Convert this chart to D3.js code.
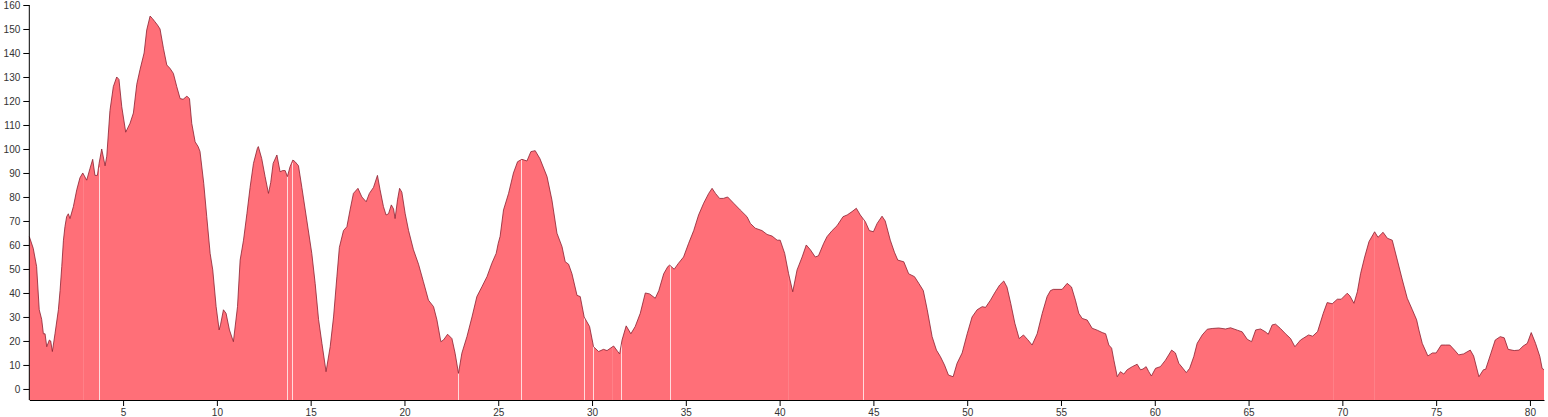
<!DOCTYPE html>
<html>
<head>
<meta charset="utf-8">
<script src="https://cdn.jsdelivr.net/npm/d3@7"></script>
<style>
  html, body { margin: 0; padding: 0; background: #fff; }
  svg { display: block; }
  .axis text { font-family: Arial, "Liberation Sans", sans-serif; font-size: 10px; fill: #333; }
  .axis path, .axis line { stroke: #000; }
</style>
</head>
<body>
<svg id="chart" width="1548" height="417"></svg>
<script>
// ---- data (distance in km, elevation in m) ----
const distanceKm = [
  0,0.21,0.39,0.53,0.66,0.75,0.84,0.93,1.07,1.14,1.23,1.37,1.55,1.64,1.73,1.82,1.9,1.99,2.08,2.17,
  2.35,2.53,2.70,2.85,3.06,3.24,3.38,3.5,3.63,3.72,3.86,4.04,4.13,4.3,4.48,4.66,4.78,4.93,5.14,5.37,
  5.55,5.73,5.9,6.12,6.26,6.44,6.56,6.7,6.83,6.97,7.15,7.33,7.5,7.68,7.86,8.04,8.2,8.4,8.54,8.66,
  8.84,9.0,9.1,9.3,9.46,9.64,9.78,9.96,10.12,10.2,10.35,10.49,10.67,10.88,11.1,11.24,11.42,11.6,11.77,11.95,
  12.16,12.21,12.39,12.57,12.66,12.75,12.87,13.0,13.2,13.37,13.5,13.64,13.76,13.9,14.05,14.17,14.35,14.53,14.8,15.06,
  15.24,15.42,15.6,15.82,16.04,16.22,16.4,16.53,16.75,16.93,17.1,17.28,17.52,17.73,17.96,18.13,18.35,18.56,18.7,18.88,
  19.02,19.15,19.3,19.42,19.5,19.63,19.74,19.86,20.04,20.22,20.48,20.75,21.01,21.28,21.55,21.73,21.94,22.08,22.3,22.53,
  22.7,22.88,23.06,23.33,23.6,23.86,24.13,24.4,24.66,24.89,25.0,25.1,25.28,25.55,25.81,26.03,26.26,26.53,26.74,26.97,
  27.22,27.6,27.86,28.13,28.4,28.57,28.75,28.93,29.2,29.37,29.58,29.87,30.08,30.35,30.61,30.8,31.15,31.37,31.47,31.6,
  31.82,32.07,32.3,32.57,32.84,33.07,33.37,33.56,33.82,34.04,34.14,34.38,34.61,34.88,35.15,35.42,35.68,35.95,36.22,36.4,
  36.58,36.8,37.0,37.23,37.55,37.9,38.26,38.44,38.7,39.06,39.33,39.6,39.87,40.03,40.27,40.48,40.7,40.93,41.2,41.42,
  41.64,41.9,42.07,42.35,42.53,42.8,43.06,43.38,43.6,43.86,44.09,44.3,44.57,44.78,45.0,45.2,45.46,45.63,45.9,46.12,
  46.3,46.62,46.88,47.19,47.42,47.66,47.87,48.13,48.36,48.57,48.79,49.0,49.25,49.46,49.73,50.0,50.26,50.53,50.8,50.98,
  51.24,51.5,51.73,51.95,52.12,52.32,52.54,52.77,53.0,53.22,53.46,53.73,54.0,54.26,54.44,54.6,55.06,55.33,55.56,55.77,
  55.95,56.13,56.4,56.66,56.93,57.2,57.38,57.55,57.7,57.82,58.0,58.17,58.35,58.53,58.8,59.06,59.24,59.37,59.54,59.68,
  59.82,60.04,60.3,60.57,60.9,61.1,61.28,61.5,61.68,61.86,62.08,62.26,62.53,62.8,63.06,63.41,63.77,64.04,64.4,64.66,
  64.93,65.16,65.38,65.64,65.9,66.05,66.26,66.44,66.7,66.97,67.24,67.47,67.77,68.2,68.42,68.68,68.98,69.19,69.46,69.73,
  69.94,70.26,70.4,70.62,70.8,70.97,71.19,71.42,71.72,71.9,72.17,72.4,72.66,72.93,73.2,73.46,73.73,73.96,74.08,74.26,
  74.56,74.8,75.0,75.27,75.5,75.73,75.98,76.2,76.46,76.82,77.0,77.28,77.52,77.64,77.92,78.15,78.42,78.63,78.84,79.16,
  79.42,79.64,79.86,80.07,80.3,80.53,80.65,80.75
];
const elevation = [
  63.5,58.6,51,33,29,23,23,17.6,20.4,20,15.6,23,33,41,51,62,67.6,71.8,73,71,
  76,83,88,90,87,92,95.7,89,89,94,100,93,97,116,126,130,129,117.6,107,110.7,
  115,127,133,140,149.6,155.4,154.4,153,151.7,150,142,135,133.6,131.5,126,121,120.7,122,121,110.7,
  103,101,99,85.7,71.8,56.5,49.6,34.3,24.6,27,33,31.5,24.6,19.7,34.3,53.7,62,73,84,94,
  100.3,101,96,88.5,85,81.5,86,94,97.5,90.5,91,91,88.5,92.6,95.4,94.7,93,84,70,56.5,
  44,29,19,7.2,17.6,30,47,59,66,67.6,74.6,81.5,83.6,80,78,81.5,84,89,83,76,
  72.5,73,76.7,75,71,78.8,83.6,82,73,66,58,52,44.7,37,34.3,28.8,19.7,20.4,22.8,21,
  14.9,6.5,14.9,21.8,30,38.5,42.6,46.8,52.4,56.5,60.7,63.6,74.6,81.5,90,94.7,95.7,95,98.9,99.3,
  96,88.5,78.8,64.9,59.3,53,52,48,39,38.5,30,26,17.6,15.6,16.5,16,17.9,15.6,14.6,20.4,
  26.3,23,26,31.5,40,39.6,37.8,41,48,51,51.6,49.9,52.4,55,60.7,66,72.5,77.4,81.5,83.6,
  81.5,79.4,79.4,80,77.4,74.6,71.8,69,67,66,64.4,63.7,62,62,56.5,48,40.5,49.6,55,60,
  58,55,55.5,60.7,63.5,66,68,71.8,72.5,73.9,75.3,72.5,69.7,66,65.5,69,72,70,62,57,
  53.7,53,48,46.8,44,41,33,21.8,16.2,13.5,10,5.8,5.1,10.7,15,23,30,33,34.3,34,
  37,40.5,43.3,45,42.5,35.7,27.4,21,22.5,20.6,18.3,23,31.5,38.5,41,41.5,41.5,44,42.5,37,
  31.5,29.4,28.7,25.3,24.5,23.5,23,18.3,17,12,5.1,7.2,6.2,8,9.3,10.3,8,8.3,9.3,7.2,
  5.4,8.6,9.3,12,16.2,15,10.7,8.6,6.8,8.6,13.5,19,22.5,24.9,25.2,25.4,25,25.5,24.5,23.8,
  20.7,19.7,24.6,25,23.8,22.8,26.7,27,25.2,23,21,17.6,20.4,22.5,22,23.9,31.5,36,35.5,37.4,
  37.4,39.9,38.8,35.7,40.5,48,55,61.4,65.5,63.2,65.3,62.8,62,53.7,45.4,37.8,33,28.8,24.6,19,
  13.75,15,15,18.3,18.3,18.3,16.2,14.2,14.6,16.2,13.7,5.1,8,8.2,14.9,20.4,21.8,21.3,16.5,16,
  16.2,17.9,19,23.5,19,13.5,8.6,8
];
// segment boundaries of the track (km): clear gaps and faint seams
const gapBreaksKm = [3.69, 13.73, 13.99, 22.83, 26.21, 29.55, 30.03, 31.56, 34.13, 44.43];
const seamBreaksKm = [2.85, 31.09, 40.43, 69.5, 71.7];
const xTickValues = [5,10,15,20,25,30,35,40,45,50,55,60,65,70,75,80];
const yTickValues = [0,10,20,30,40,50,60,70,80,90,100,110,120,130,140,150,160];

// ---- layout ----
const W = 1548, H = 417;
const margin = {left: 29.3, top: 5, right: 4, bottom: 17};
const innerBottom = H - margin.bottom;

const data = distanceKm.map((d, i) => ({d, v: elevation[i]}));

const x = d3.scaleLinear().domain([0, 80.75]).range([margin.left, W - margin.right]);
const y = d3.scaleLinear().domain([-4.6, 160]).range([innerBottom, margin.top]);

const svg = d3.select("#chart");

const area = d3.area().x(p => x(p.d)).y0(innerBottom).y1(p => y(p.v));
const line = d3.line().x(p => x(p.d)).y(p => y(p.v));

svg.append("path").datum(data)
  .attr("d", area)
  .attr("fill", "#ff6f78");

// value at distance (linear interpolation)
const bis = d3.bisector(p => p.d).left;
function valueAt(km) {
  const i = Math.max(1, Math.min(data.length - 1, bis(data, km)));
  const a = data[i - 1], b = data[i];
  const t = (km - a.d) / (b.d - a.d);
  return a.v + t * (b.v - a.v);
}

svg.append("g").selectAll("line.gap").data(gapBreaksKm).join("line")
  .attr("x1", d => Math.round(x(d)) + 0.5).attr("x2", d => Math.round(x(d)) + 0.5)
  .attr("y1", innerBottom).attr("y2", d => y(valueAt(d)))
  .attr("stroke", "#fff").attr("stroke-opacity", 0.75).attr("stroke-width", 1);

svg.append("g").selectAll("line.seam").data(seamBreaksKm).join("line")
  .attr("x1", d => Math.round(x(d)) + 0.5).attr("x2", d => Math.round(x(d)) + 0.5)
  .attr("y1", innerBottom).attr("y2", d => y(valueAt(d)))
  .attr("stroke", "#fff").attr("stroke-opacity", 0.12).attr("stroke-width", 1);

svg.append("path").datum(data)
  .attr("d", line)
  .attr("fill", "none")
  .attr("stroke", "#8a2030")
  .attr("stroke-width", 0.8);

// axes
svg.append("g").attr("class", "axis")
  .attr("transform", `translate(0,${innerBottom})`)
  .call(d3.axisBottom(x).tickValues(xTickValues).tickSizeOuter(0));

const yAxisG = svg.append("g").attr("class", "axis")
  .attr("transform", `translate(${margin.left},0)`)
  .call(d3.axisLeft(y).tickValues(yTickValues).tickSizeOuter(0));
yAxisG.select(".domain").attr("d", `M0,${y(160)}V${innerBottom}`);
</script>
</body>
</html>
